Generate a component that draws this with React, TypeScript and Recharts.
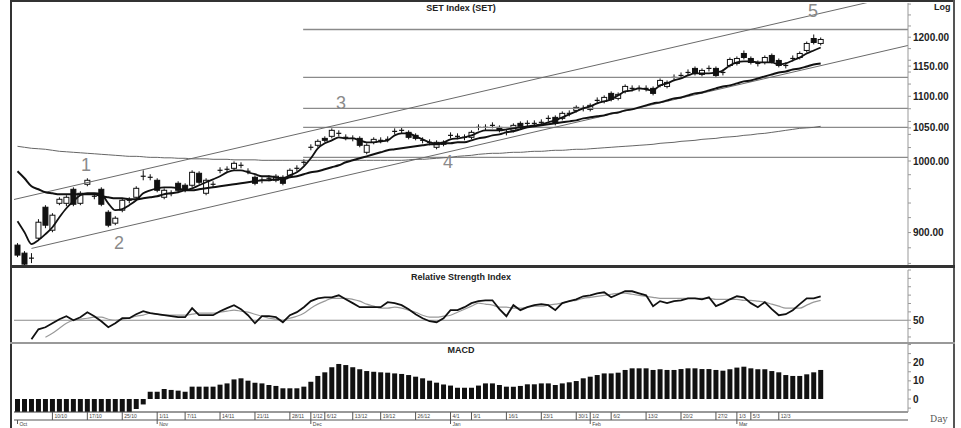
import React from "react";
import { ComposedChart, Bar, Line, XAxis, YAxis, ReferenceLine } from "recharts";

// SET Index, daily bars from 3 Oct 2011
const opens = [
  883.5, 873.1, 866.7, 892.6, 934.2, 903.1, 939.6, 939.6, 959.2, 939.6,
  966.3, 949.4, 959.2, 927.3, 912.5, 930.1, 943.8, 948.0, 977.8, 976.3,
  972.0, 948.0, 953.6, 967.7, 964.9, 964.9, 982.1, 953.6, 966.3, 986.4,
  987.9, 989.3, 993.7, 985.0, 976.3, 972.0, 974.9, 972.0, 976.3, 979.2,
  989.3, 998.1, 1020.4, 1023.4, 1033.9, 1037.0, 1041.6, 1035.5, 1033.9, 1033.9,
  1012.9, 1027.9, 1030.9, 1032.4, 1044.6, 1046.2, 1043.1, 1038.5, 1030.9, 1027.9,
  1020.4, 1027.9, 1038.5, 1037.0, 1035.5, 1035.5, 1050.8, 1050.8, 1053.9, 1050.8,
  1043.1, 1046.2, 1057.0, 1057.0, 1057.0, 1058.6, 1064.8, 1066.4, 1064.8, 1072.7,
  1077.4, 1080.6, 1079.0, 1093.4, 1091.8, 1104.7, 1096.6, 1107.9, 1112.9, 1112.9,
  1112.9, 1112.9, 1117.8, 1116.1, 1131.0, 1134.3, 1139.3, 1146.1, 1136.0, 1146.1,
  1146.1, 1139.3, 1151.1, 1154.5, 1171.6, 1163.0, 1154.5, 1156.2, 1168.2, 1159.6,
  1151.1, 1163.0, 1164.7, 1176.8, 1197.7, 1189.0,
];
const highs = [
  886.1, 875.7, 873.1, 917.9, 937.0, 926.0, 948.0, 950.8, 962.0, 956.4,
  974.9, 953.6, 962.0, 930.1, 921.9, 946.6, 948.0, 963.5, 986.4, 980.7,
  974.9, 960.6, 957.8, 970.6, 967.7, 986.4, 985.0, 974.9, 970.6, 990.8,
  992.2, 999.5, 998.1, 989.3, 979.2, 976.3, 979.2, 980.7, 979.2, 989.3,
  993.7, 1002.5, 1024.9, 1032.4, 1037.0, 1049.3, 1046.2, 1040.0, 1038.5, 1037.0,
  1026.4, 1035.5, 1035.5, 1037.0, 1049.3, 1050.8, 1046.2, 1041.6, 1035.5, 1032.4,
  1030.9, 1030.9, 1043.1, 1041.6, 1040.0, 1046.2, 1055.5, 1055.5, 1058.6, 1053.9,
  1047.7, 1057.0, 1060.1, 1061.7, 1061.7, 1063.3, 1069.5, 1069.5, 1075.8, 1077.4,
  1085.4, 1085.4, 1088.6, 1098.2, 1101.5, 1107.9, 1106.3, 1119.4, 1117.8, 1117.8,
  1117.8, 1116.1, 1129.3, 1126.0, 1136.0, 1139.3, 1144.4, 1149.4, 1146.1, 1151.1,
  1149.4, 1144.4, 1164.7, 1166.5, 1176.8, 1166.5, 1159.6, 1168.2, 1171.6, 1163.0,
  1156.2, 1168.2, 1175.1, 1192.4, 1204.8, 1199.5,
];
const lows = [
  868.0, 855.3, 860.4, 888.7, 905.8, 900.4, 937.0, 935.6, 935.6, 937.0,
  963.5, 945.2, 935.6, 907.1, 909.8, 927.3, 939.6, 945.2, 972.0, 972.0,
  955.0, 945.2, 949.4, 955.0, 955.0, 962.0, 966.3, 950.8, 962.0, 982.1,
  983.5, 986.4, 989.3, 980.7, 964.9, 967.7, 970.6, 969.2, 964.9, 976.3,
  985.0, 993.7, 1015.9, 1020.4, 1027.9, 1033.9, 1037.0, 1030.9, 1029.4, 1020.4,
  1009.9, 1024.9, 1026.4, 1027.9, 1040.0, 1041.6, 1032.4, 1030.9, 1026.4, 1023.4,
  1017.4, 1021.9, 1033.9, 1032.4, 1030.9, 1032.4, 1046.2, 1046.2, 1049.3, 1043.1,
  1038.5, 1043.1, 1047.7, 1052.4, 1052.4, 1053.9, 1060.1, 1053.9, 1061.7, 1068.0,
  1074.2, 1075.8, 1075.8, 1088.6, 1088.6, 1091.8, 1093.4, 1104.7, 1107.9, 1107.9,
  1107.9, 1101.5, 1114.5, 1112.9, 1126.0, 1129.3, 1134.3, 1134.3, 1132.7, 1141.0,
  1131.0, 1134.3, 1147.8, 1151.1, 1161.3, 1152.8, 1149.4, 1152.8, 1154.5, 1147.8,
  1146.1, 1157.9, 1161.3, 1173.3, 1187.3, 1185.5,
];
const closes = [
  870.6, 859.1, 866.7, 913.8, 909.8, 923.3, 945.2, 948.0, 938.3, 953.6,
  972.0, 949.4, 938.3, 909.8, 919.2, 943.8, 943.8, 960.6, 977.8, 976.3,
  957.8, 957.8, 953.6, 957.8, 957.8, 983.5, 969.2, 972.0, 966.3, 986.4,
  987.9, 996.6, 993.7, 985.0, 967.7, 972.0, 974.9, 977.8, 967.7, 986.4,
  989.3, 998.1, 1020.4, 1029.4, 1030.9, 1046.2, 1041.6, 1035.5, 1033.9, 1023.4,
  1023.4, 1032.4, 1030.9, 1032.4, 1044.6, 1046.2, 1035.5, 1033.9, 1030.9, 1027.9,
  1027.9, 1024.9, 1038.5, 1037.0, 1035.5, 1043.1, 1050.8, 1050.8, 1053.9, 1046.2,
  1043.1, 1053.9, 1050.8, 1057.0, 1057.0, 1058.6, 1064.8, 1057.0, 1072.7, 1072.7,
  1082.2, 1080.6, 1085.4, 1093.4, 1098.2, 1095.0, 1103.1, 1116.1, 1112.9, 1112.9,
  1112.9, 1104.7, 1126.0, 1122.7, 1131.0, 1134.3, 1139.3, 1137.7, 1142.7, 1146.1,
  1134.3, 1139.3, 1161.3, 1163.0, 1164.7, 1156.2, 1154.5, 1164.7, 1157.9, 1151.1,
  1151.1, 1163.0, 1171.6, 1189.0, 1190.7, 1196.0,
];

// moving averages drawn over the price
const fastMa = [
  915.2, 900.4, 884.8, 890.0, 897.8, 907.1, 920.5, 932.8, 942.4, 950.8,
  953.6, 953.6, 952.2, 939.6, 930.1, 931.5, 937.0, 943.8, 953.6, 957.8,
  960.6, 962.0, 962.0, 960.6, 957.8, 960.6, 964.9, 969.2, 973.4, 977.8,
  983.5, 986.4, 986.4, 983.5, 980.7, 977.8, 977.8, 976.3, 974.9, 979.2,
  983.5, 992.2, 1004.0, 1018.9, 1026.4, 1030.9, 1035.5, 1033.9, 1033.9, 1030.9,
  1027.9, 1027.9, 1029.4, 1030.9, 1038.5, 1041.6, 1041.6, 1037.0, 1032.4, 1027.9,
  1026.4, 1027.9, 1032.4, 1033.9, 1035.5, 1038.5, 1043.1, 1046.2, 1046.2, 1046.2,
  1047.7, 1049.3, 1050.8, 1052.4, 1053.9, 1055.5, 1058.6, 1061.7, 1066.4, 1071.1,
  1075.8, 1080.6, 1083.8, 1088.6, 1091.8, 1095.0, 1101.5, 1108.0, 1109.6, 1112.9,
  1111.2, 1109.6, 1117.8, 1121.1, 1126.0, 1129.3, 1134.3, 1137.7, 1137.7, 1137.7,
  1139.3, 1142.7, 1151.1, 1156.2, 1157.9, 1157.9, 1156.2, 1156.2, 1156.2, 1152.8,
  1154.5, 1159.6, 1164.7, 1171.6, 1176.8, 1182.0,
];
const slowMa = [
  985.0, 974.9, 963.4, 959.2, 955.0, 953.6, 952.2, 952.2, 952.2, 952.2,
  952.2, 952.2, 949.4, 948.0, 946.6, 946.6, 945.2, 945.2, 946.6, 948.0,
  949.4, 952.2, 953.6, 955.0, 957.8, 957.8, 959.2, 960.6, 962.0, 963.4,
  964.9, 966.3, 967.7, 969.2, 970.6, 972.0, 972.0, 973.4, 973.4, 976.3,
  977.8, 980.7, 983.5, 985.0, 987.9, 990.8, 993.7, 998.1, 1001.0, 1004.0,
  1006.9, 1009.9, 1012.9, 1015.9, 1017.4, 1018.9, 1020.4, 1021.9, 1023.4, 1024.9,
  1024.9, 1026.4, 1026.4, 1027.9, 1027.9, 1030.9, 1033.9, 1035.5, 1038.5, 1040.0,
  1043.1, 1044.6, 1047.7, 1050.8, 1052.4, 1053.9, 1055.5, 1057.0, 1058.6, 1060.1,
  1061.7, 1064.8, 1066.4, 1068.0, 1069.5, 1072.7, 1074.2, 1077.4, 1079.0, 1082.2,
  1085.4, 1088.6, 1090.2, 1093.4, 1096.6, 1098.2, 1101.5, 1104.7, 1106.3, 1109.6,
  1112.9, 1116.1, 1117.8, 1121.1, 1124.4, 1126.0, 1129.3, 1132.7, 1136.0, 1139.3,
  1141.0, 1144.4, 1146.1, 1149.4, 1152.8, 1154.5,
];
const longMa = [
  1021.9, 1020.4, 1018.9, 1018.2, 1017.4, 1015.9, 1014.4, 1013.7, 1012.9, 1012.2,
  1011.4, 1010.7, 1009.9, 1009.2, 1008.4, 1007.7, 1006.9, 1006.9, 1006.2, 1005.4,
  1005.4, 1004.7, 1004.7, 1004.0, 1004.0, 1003.2, 1003.2, 1003.2, 1002.5, 1002.5,
  1002.5, 1001.7, 1001.7, 1001.7, 1001.7, 1001.0, 1001.0, 1001.0, 1001.0, 1001.0,
  1001.0, 1001.0, 1001.0, 1001.0, 1001.0, 1001.0, 1001.0, 1001.0, 1001.0, 1001.0,
  1001.0, 1001.0, 1001.0, 1001.0, 1001.0, 1001.0, 1001.7, 1002.5, 1002.5, 1003.2,
  1004.0, 1004.7, 1005.4, 1006.9, 1007.7, 1008.4, 1009.9, 1010.7, 1011.4, 1011.4,
  1012.2, 1012.9, 1012.9, 1013.7, 1014.4, 1014.4, 1015.2, 1015.9, 1015.9, 1016.7,
  1017.4, 1017.4, 1018.2, 1018.9, 1019.7, 1020.4, 1021.2, 1021.9, 1022.6, 1023.4,
  1024.1, 1024.9, 1026.4, 1027.2, 1027.9, 1029.4, 1030.1, 1030.9, 1032.4, 1033.2,
  1033.9, 1035.5, 1036.2, 1037.0, 1038.5, 1039.3, 1040.8, 1041.6, 1043.1, 1044.6,
  1046.2, 1047.7, 1049.3, 1050.0, 1050.8, 1052.4,
];

const rsi = [
  null, null, 38.6, 44.6, 45.8, 48.2, 50.6, 52.4, 50.0, 51.8,
  54.8, 52.4, 49.4, 45.8, 48.2, 51.2, 51.2, 53.6, 55.4, 54.2,
  53.6, 53.0, 52.4, 51.8, 51.8, 57.2, 53.0, 53.0, 53.0, 55.4,
  57.2, 59.0, 56.6, 53.0, 48.2, 52.4, 52.4, 51.8, 48.8, 53.0,
  54.8, 57.8, 61.4, 63.1, 63.7, 63.7, 64.9, 62.5, 60.2, 57.8,
  57.8, 57.8, 57.8, 60.8, 60.2, 59.0, 56.6, 53.6, 51.2, 49.4,
  48.8, 51.2, 56.0, 56.0, 57.8, 60.2, 61.4, 61.9, 61.9, 56.6,
  52.4, 59.0, 56.0, 57.8, 59.0, 59.6, 59.0, 56.0, 60.2, 61.4,
  62.5, 64.3, 64.9, 66.1, 66.7, 63.7, 65.5, 67.3, 67.3, 66.1,
  64.9, 58.4, 61.4, 60.2, 61.4, 61.9, 63.1, 63.1, 62.5, 63.7,
  58.4, 60.2, 62.5, 64.3, 63.7, 60.2, 57.8, 60.8, 56.6, 53.0,
  53.6, 56.0, 59.6, 63.1, 63.1, 64.3,
];
const rsiSignal = [
  null, null, null, null, 39.8, 42.2, 45.2, 48.2, 50.0, 50.6,
  51.2, 51.8, 51.8, 50.6, 50.0, 50.6, 51.2, 52.4, 53.0, 54.2,
  53.6, 53.0, 53.0, 53.0, 53.0, 53.6, 54.2, 54.2, 54.2, 54.8,
  55.4, 56.0, 55.4, 54.8, 53.6, 52.4, 51.2, 50.6, 50.0, 51.2,
  52.4, 54.2, 57.2, 59.6, 61.4, 63.1, 63.1, 63.1, 62.5, 61.4,
  59.6, 58.4, 57.2, 57.2, 57.8, 57.2, 56.0, 54.8, 53.0, 51.8,
  51.8, 52.4, 53.0, 54.8, 56.6, 58.4, 60.2, 59.6, 59.0, 57.8,
  57.8, 57.2, 57.2, 57.8, 58.4, 58.4, 59.0, 59.6, 60.2, 61.4,
  61.9, 63.1, 63.7, 64.3, 64.9, 65.5, 66.1, 66.1, 65.5, 64.9,
  64.3, 63.7, 63.1, 63.1, 63.1, 63.1, 63.1, 63.1, 63.1, 63.1,
  62.5, 62.5, 62.5, 62.5, 61.9, 61.9, 61.4, 60.8, 59.6, 58.4,
  57.2, 57.2, 57.2, 59.0, 60.8, 61.9,
];

const macd = [
  -7.1, -7.1, -7.1, -7.1, -7.1, -7.1, -7.1, -7.1, -7.1, -7.1,
  -7.1, -7.1, -7.1, -7.1, -7.1, -7.1, -7.1, -5.5, -3.0, 4.0,
  4.0, 5.5, 5.0, 4.6, 4.0, 6.8, 6.8, 6.8, 6.8, 7.9,
  8.6, 10.8, 11.4, 10.1, 9.0, 8.6, 7.7, 7.2, 5.9, 5.9,
  5.9, 6.8, 9.5, 12.7, 14.7, 17.5, 19.3, 18.7, 17.5, 16.4,
  15.4, 15.0, 14.7, 14.5, 14.1, 13.8, 13.2, 12.3, 11.4, 10.1,
  9.0, 8.0, 7.4, 6.2, 6.2, 6.2, 7.4, 8.6, 8.6, 7.7,
  6.8, 6.8, 7.2, 8.1, 8.1, 8.6, 8.6, 7.7, 8.6, 9.2,
  9.9, 11.4, 12.3, 13.2, 14.1, 14.1, 14.5, 16.0, 16.9, 16.9,
  16.9, 16.0, 16.4, 16.0, 16.0, 16.5, 16.9, 16.9, 16.5, 16.5,
  16.0, 15.6, 16.4, 17.3, 17.8, 16.9, 16.4, 16.4, 15.4, 14.7,
  13.2, 12.7, 12.7, 13.6, 14.7, 16.0,
];

// horizontal price levels and trend channel
const levels = [1213.7, 1131.0, 1080.6, 1050.8, 1005.4];
const upperChannel = [{ x: -0.5, y: 944.9 }, { x: 127.5, y: 1280.5 }];
const lowerChannel = [{ x: 2, y: 879.2 }, { x: 127.5, y: 1185.5 }];

const priceLabels = [900, 1000, 1050, 1100, 1150, 1200];
const priceMinor = [860, 880, 920, 940, 960, 980, 1020, 1040, 1060, 1080, 1120, 1140, 1160, 1180, 1220, 1240, 1260];
const rsiTicks = [40, 45, 50, 55, 60, 65, 70, 75, 80];
const macdTicks = [-5, 0, 5, 10, 15, 20, 25, 30];

const dayTicks = [5, 10, 15, 20, 24, 29, 34, 39, 42, 44, 48, 52, 57, 62, 65, 70, 75, 80, 82, 85, 90, 95, 100, 103, 105, 109];
const dayLabels = ["10/10", "17/10", "25/10", "1/11", "7/11", "14/11", "21/11", "28/11", "1/12", "6/12", "13/12", "19/12", "26/12",
  "4/1", "9/1", "16/1", "23/1", "30/1", "1/2", "6/2", "13/2", "20/2", "27/2", "1/3", "5/3", "12/3"];
const monthTicks = [0, 20, 42, 62, 82, 103];
const monthLabels = ["Oct", "Nov", "Dec", "Jan", "Feb", "Mar"];

const waveLabels = [
  { text: "1", left: 81, top: 155 },
  { text: "2", left: 114, top: 233 },
  { text: "3", left: 336, top: 93 },
  { text: "4", left: 443, top: 152 },
  { text: "5", left: 808, top: 1 },
];

const rows = closes.map((c, i) => ({
  i,
  open: opens[i],
  high: highs[i],
  low: lows[i],
  close: c,
  range: [lows[i], highs[i]],
  fast: fastMa[i],
  slow: slowMa[i],
  long: longMa[i],
  rsi: rsi[i],
  rsiSig: rsiSignal[i],
  macd: macd[i],
}));

const FONT = "'Liberation Sans', Arial, sans-serif";
const X_DOMAIN: [number, number] = [-0.5, 127.5];
const MARGIN_X = { left: 14, right: 6 };
const axisTick = { fontSize: 10, fontWeight: 700, fill: "#222", fontFamily: FONT };

function Candle(props: any) {
  const { x, y, width, height, payload } = props;
  if (!payload || payload.open == null) return null;
  const top = Math.min(y, y + height);
  const h = Math.abs(height);
  const { open, close, high, low } = payload;
  const lh = Math.log(high);
  const span = lh - Math.log(low);
  const py = (v: number) => top + ((lh - Math.log(v)) / span) * h;
  const cx = x + width / 2;
  const bw = 5;
  const yo = py(open);
  const yc = py(close);
  const doji = Math.abs(open - close) < 0.05;
  return (
    <g>
      <line x1={cx} x2={cx} y1={top} y2={top + h} stroke="#111" strokeWidth={1} />
      {doji ? (
        <line x1={cx - bw / 2} x2={cx + bw / 2} y1={yo} y2={yo} stroke="#111" strokeWidth={1.2} />
      ) : (
        <rect
          x={cx - bw / 2}
          y={Math.min(yo, yc)}
          width={bw}
          height={Math.max(Math.abs(yo - yc), 1.5)}
          fill={close < open ? "#111" : "#fff"}
          stroke="#111"
          strokeWidth={1}
        />
      )}
    </g>
  );
}

function DayTick(props: any) {
  const { x, y, payload } = props;
  const k = dayTicks.indexOf(payload.value);
  return (
    <g>
      <line x1={x} x2={x} y1={y} y2={y + 8} stroke="#555" strokeWidth={1} />
      <text x={x + 2} y={y + 6} fontSize={5} fill="#444" fontFamily={FONT}>
        {dayLabels[k]}
      </text>
    </g>
  );
}

function MonthTick(props: any) {
  const { x, y, payload } = props;
  const k = monthTicks.indexOf(payload.value);
  return (
    <g>
      <line x1={x} x2={x} y1={y} y2={y + 4} stroke="#555" strokeWidth={1} />
      <text x={x + 2} y={y + 6} fontSize={5} fill="#444" fontFamily={FONT}>
        {monthLabels[k]}
      </text>
    </g>
  );
}

const title = (text: string, top: number) => (
  <div
    style={{
      position: "absolute",
      left: 14,
      width: 894,
      top,
      textAlign: "center",
      fontFamily: FONT,
      fontSize: 9,
      fontWeight: 700,
      color: "#222",
      lineHeight: "10px",
    }}
  >
    {text}
  </div>
);

const rule = (left: number, top: number, width: number, height: number, color: string) => (
  <div style={{ position: "absolute", left, top, width, height, background: color }} />
);

export default function App() {
  return (
    <div style={{ position: "absolute", left: 0, top: 0, width: 961, height: 428, background: "#fff", overflow: "hidden" }}>
      <div style={{ position: "absolute", left: 0, top: 0 }}>
        <ComposedChart width={961} height={268} data={rows} margin={{ top: 3, bottom: 3, ...MARGIN_X }}>
          <XAxis dataKey="i" type="number" domain={X_DOMAIN} hide allowDataOverflow />
          <YAxis
            orientation="right"
            width={47}
            scale="log"
            domain={[858, 1262]}
            allowDataOverflow
            ticks={[...priceLabels, ...priceMinor].sort((a, b) => a - b)}
            interval={0}
            tickFormatter={(v: number) => (priceLabels.includes(v) ? v.toFixed(2) : "")}
            tick={axisTick}
            tickSize={3}
            tickMargin={2}
            axisLine={{ stroke: "#999" }}
            tickLine={{ stroke: "#999" }}
          />
          {levels.map((v) => (
            <ReferenceLine key={v} segment={[{ x: 40.9, y: v }, { x: 127.5, y: v }]} stroke="#8a8a8a" strokeWidth={1.4} />
          ))}
          <ReferenceLine segment={upperChannel} stroke="#6a6a6a" strokeWidth={1} ifOverflow="hidden" />
          <ReferenceLine segment={lowerChannel} stroke="#6a6a6a" strokeWidth={1} ifOverflow="hidden" />
          <Line dataKey="long" stroke="#666" strokeWidth={1} dot={false} type="monotone" isAnimationActive={false} />
          <Line dataKey="slow" stroke="#111" strokeWidth={2} dot={false} type="monotone" isAnimationActive={false} />
          <Line dataKey="fast" stroke="#111" strokeWidth={1.8} dot={false} type="monotone" isAnimationActive={false} />
          <Bar dataKey="range" barSize={5} shape={<Candle />} isAnimationActive={false} />
        </ComposedChart>
      </div>

      <div style={{ position: "absolute", left: 0, top: 268 }}>
        <ComposedChart width={961} height={76} data={rows} margin={{ top: 2, bottom: 2, ...MARGIN_X }}>
          <XAxis dataKey="i" type="number" domain={X_DOMAIN} hide allowDataOverflow />
          <YAxis
            orientation="right"
            width={47}
            domain={[37, 80]}
            allowDataOverflow
            ticks={rsiTicks}
            interval={0}
            tickFormatter={(v: number) => (v === 50 ? "50" : "")}
            tick={axisTick}
            tickSize={3}
            tickMargin={2}
            axisLine={{ stroke: "#999" }}
            tickLine={{ stroke: "#999" }}
          />
          <ReferenceLine y={50} stroke="#8a8a8a" strokeWidth={1.2} />
          <Line dataKey="rsiSig" stroke="#999" strokeWidth={1.2} dot={false} type="monotone" isAnimationActive={false} />
          <Line dataKey="rsi" stroke="#111" strokeWidth={1.8} dot={false} type="linear" isAnimationActive={false} />
        </ComposedChart>
      </div>

      <div style={{ position: "absolute", left: 0, top: 342 }}>
        <ComposedChart width={961} height={86} data={rows} margin={{ top: 2, bottom: 0, ...MARGIN_X }}>
          <XAxis
            dataKey="i"
            type="number"
            domain={X_DOMAIN}
            allowDataOverflow
            ticks={dayTicks}
            interval={0}
            height={8}
            tickSize={0}
            tickMargin={0}
            tick={<DayTick />}
            axisLine={{ stroke: "#333" }}
          />
          <XAxis
            xAxisId="m"
            dataKey="i"
            type="number"
            domain={X_DOMAIN}
            allowDataOverflow
            ticks={monthTicks}
            interval={0}
            height={8}
            tickSize={0}
            tickMargin={0}
            tick={<MonthTick />}
            axisLine={{ stroke: "#555" }}
          />
          <YAxis
            orientation="right"
            width={47}
            domain={[-7.16, 30.3]}
            allowDataOverflow
            ticks={macdTicks}
            interval={0}
            tickFormatter={(v: number) => (v === 0 || v === 10 || v === 20 ? String(v) : "")}
            tick={axisTick}
            tickSize={3}
            tickMargin={2}
            axisLine={{ stroke: "#999" }}
            tickLine={{ stroke: "#999" }}
          />
          <Bar dataKey="macd" fill="#111" barSize={5} isAnimationActive={false} />
        </ComposedChart>
      </div>

      {title("SET Index (SET)", 3)}
      {title("Relative Strength Index", 272)}
      {title("MACD", 345)}
      <div style={{ position: "absolute", left: 934, top: 2, fontFamily: FONT, fontSize: 9, fontWeight: 700, color: "#222" }}>Log</div>
      <div style={{ position: "absolute", left: 930, top: 414, fontFamily: "'DejaVu Serif', serif", fontSize: 9, color: "#555" }}>Day</div>
      {waveLabels.map((w) => (
        <div
          key={w.text}
          style={{ position: "absolute", left: w.left, top: w.top, fontFamily: FONT, fontSize: 18, color: "#8a8a8a", lineHeight: "20px" }}
        >
          {w.text}
        </div>
      ))}

      {rule(10, 0, 945, 2, "#333")}
      {rule(10, 0, 2, 428, "#333")}
      {rule(953, 0, 2, 428, "#555")}
      {rule(10, 265, 945, 3, "#333")}
      {rule(10, 342, 945, 2, "#999")}
    </div>
  );
}
